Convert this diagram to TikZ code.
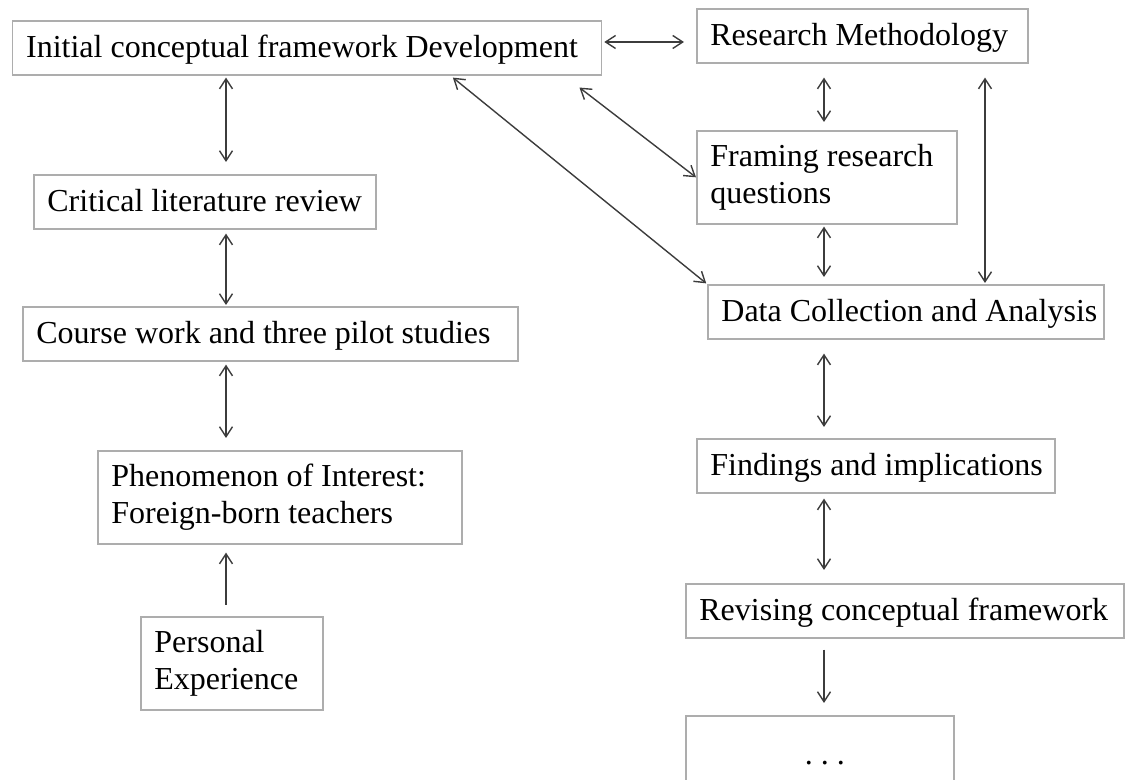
\documentclass[tikz,border=0pt]{standalone}
\usepackage{fontspec}
\setmainfont{Liberation Serif}
\usetikzlibrary{arrows.meta}
\definecolor{boxgray}{HTML}{ADADAD}
\definecolor{arrgray}{HTML}{3C3C3C}
\tikzset{box/.style={draw=boxgray,line width=0.8pt,anchor=north west,inner sep=0pt,minimum height=27pt}}
\tikzset{tall/.style={box,minimum height=46.5pt}}
\tikzset{txt/.style={anchor=west,align=left,inner xsep=7pt,inner ysep=0pt,font=\fontsize{16pt}{18.7pt}\selectfont}}
\tikzset{one/.style={txt,text height=12.5pt,text depth=2.5pt}}
\tikzset{ar/.style={draw=arrgray,line width=0.7pt}}
\tikzset{>={Straight Barb[length=5pt,width=6.5pt]}}

\begin{document}
\begin{tikzpicture}[x=0.5pt, y=-0.5pt]
        \useasboundingbox (0,0) rectangle (1126,780);
        % left column
        \node[box, minimum width=294.5pt] (Init) at (11.7,20) {};
        \node[one] (InitT) at (Init.west) {Initial conceptual framework Development};
        \node[box, minimum width=171pt] (Lit) at (33,174) {};
        \node[one] (LitT) at (Lit.west) {Critical literature review};
        \node[box, minimum width=247.5pt] (Course) at (22,306) {};
        \node[one] (CourseT) at (Course.west) {Course work and three pilot studies};
        \node[tall, minimum width=182pt] (Phen) at (97,450) {};
        \node[txt] (PhenT) at (Phen.west) {Phenomenon of Interest:\\Foreign-born teachers};
        \node[tall, minimum width=91pt] (Pers) at (140,616) {};
        \node[txt] (PersT) at (Pers.west) {Personal\\Experience};
        % right column
        \node[box, minimum width=165.5pt] (Meth) at (696,8) {};
        \node[one] (MethT) at (Meth.west) {Research Methodology};
        \node[tall, minimum width=130pt] (Frame) at (696,130) {};
        \node[txt] (FrameT) at (Frame.west) {Framing research\\questions};
        \node[box, minimum width=198pt] (Data) at (707,284) {};
        \node[one] (DataT) at (Data.west) {Data Collection and Analysis};
        \node[box, minimum width=179pt] (Find) at (696,438) {};
        \node[one] (FindT) at (Find.west) {Findings and implications};
        \node[box, minimum width=219pt] (Rev) at (685,583) {};
        \node[one] (RevT) at (Rev.west) {Revising conceptual framework};
        \node[tall, minimum width=134pt] (More) at (685,715) {};
        \node[txt, anchor=base] (MoreT) at ([xshift=2.5pt, yshift=-1pt]More.center) {.\ .\ .};
        % arrow axes
        \coordinate (L) at (226,0);
        \coordinate (R) at (824,0);
        \coordinate (F) at (985,0);
        \coordinate (H) at (0,42);
        \draw[ar, <->, shorten <=1pt, shorten >=6pt] (Init.south -| L) -- (Lit.north -| L);
        \draw[ar, <->, shorten <=2pt, shorten >=0.5pt] (Lit.south -| L) -- (Course.north -| L);
        \draw[ar, <->, shorten <=1.5pt, shorten >=6pt] (Course.south -| L) -- (Phen.north -| L);
        \draw[ar, ->, shorten <=5.5pt, shorten >=4pt] (Pers.north -| L) -- (Phen.south -| L);
        \draw[ar, <->, shorten <=1pt, shorten >=6pt] (Init.east |- H) -- (Meth.west |- H);
        \draw[ar, <->, shorten <=7pt, shorten >=4pt] (Meth.south -| R) -- (Frame.north -| R);
        \draw[ar, <->, shorten <=1pt, shorten >=3.5pt] (Frame.south -| R) -- (Data.north -| R);
        \draw[ar, <->, shorten <=7pt, shorten >=5.5pt] (Data.south -| R) -- (Find.north -| R);
        \draw[ar, <->, shorten <=2.5pt, shorten >=6.5pt] (Find.south -| R) -- (Rev.north -| R);
        \draw[ar, ->, shorten <=5.5pt, shorten >=6pt] (Rev.south -| R) -- (More.north -| R);
        \draw[ar, <->, shorten <=7pt, shorten >=0.5pt] (Meth.south -| F) -- (Data.north -| F);
        \draw[ar, <->, shorten <=9.8pt] ([xshift=-19.2pt]Init.south east) -- (Frame.west);
        \draw[ar, <->, shorten <=1.6pt, shorten >=0.5pt] ([xshift=71.7pt]Init.south) -- (Data.north west);
    \end{tikzpicture}
\end{document}
